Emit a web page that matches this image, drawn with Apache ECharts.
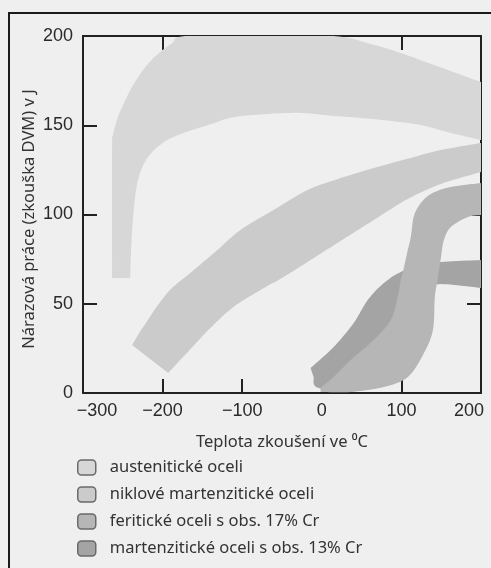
<!DOCTYPE html>
<html><head><meta charset="utf-8">
<script src="https://cdn.jsdelivr.net/npm/echarts@6/dist/echarts.min.js"></script>
<style>html,body{margin:0;padding:0;background:#efefef}#c{width:491px;height:568px}</style>
</head><body><div id="c"></div>
<script>
// Axis ticks
const xTickValues = [-300, -200, -100, 0, 100, 200];
const yTickValues = [0, 50, 100, 150, 200];

// Series names (legend order)
const seriesNames = [
  'austenitické oceli',
  'niklové martenzitické oceli',
  'feritické oceli s obs. 17% Cr',
  'martenzitické oceli s obs. 13% Cr'
];

// Band boundaries [temperature °C, impact energy J]
const austeniticUpper = [[-263.5,64.4],[-263.5,136],[-262.3,144.5],[-257.3,153],[-249.7,161.3],[-237.1,172.5],[-219.5,183.8],[-203,191],[-188,196],[-171.7,200],[-80,200],[15,200],[57.7,196],[99.2,190.5],[140.8,183.8],[200,174.2]];
const austeniticLower = [[-240.8,64.4],[-239,86],[-236,104],[-232,117],[-225,127],[-214,134.5],[-200,140],[-186,143.5],[-165,147],[-140,150.5],[-111,154.5],[-68,156.3],[-26.7,156.9],[14.9,155.2],[48.8,154.1],[86.6,152.4],[124.4,150.1],[162.2,145.7],[200,141.7]];

const nickelUpper = [[-238.3,26.9],[-224.4,37],[-194.2,56],[-165.2,67.2],[-131.2,80.1],[-102.3,91.3],[-60.7,102.5],[-17.9,113.7],[23.7,120.4],[65.2,126],[111.8,131.7],[149.6,136.1],[200,140.1]];
const nickelLower = [[-193,11.2],[-165,24.6],[-140,36.4],[-111,48.2],[-77,57.7],[-48,65],[-18,73.4],[23.7,85.2],[65.2,96.9],[108,108.7],[149.6,117.1],[200,123.8]];

const ferriticUpper = [[-1.5,2.8],[17.4,10.1],[36.3,18.5],[65.2,29.7],[86.6,40.9],[95.4,53.8],[99.2,63.3],[103,70],[108,80.1],[111.8,87.4],[115.6,99],[124.4,106.4],[137,111.5],[156,114.8],[178.6,116.5],[200,117.6]];
const ferriticLower = [[-1.5,0.6],[36.3,0.6],[78,3.4],[108.2,9],[128.3,22.4],[139.6,35.3],[142,53.8],[145.8,64.4],[149.6,75.6],[153.4,85.7],[162.2,93],[183.6,98.6],[200,99.7]];

const martensiticUpper = [[-14.1,14],[14.9,25.8],[40,39.2],[57.7,52.1],[77.9,61.6],[99.2,67.8],[125,71.5],[150,73.4],[200,74.5]];
const martensiticLower = [[-10.3,9],[-4,2.8],[49,1.7],[93,13],[118,41],[137,57.7],[150,61],[200,58.8]];

const bandColors = ['#d7d7d7', '#cbcbcb', '#b6b6b6', '#a4a4a4'];

// Smooth an open polyline of pixel points (Catmull-Rom), keeping its end points.
function smoothLine(pts, steps) {
  const out = [];
  for (let i = 0; i < pts.length - 1; i++) {
    const p0 = pts[i - 1] || pts[i], p1 = pts[i], p2 = pts[i + 1], p3 = pts[i + 2] || pts[i + 1];
    for (let s = 0; s < steps; s++) {
      const t = s / steps, t2 = t * t, t3 = t2 * t;
      const f = (a, b, c, d) => 0.5 * ((2 * b) + (-a + c) * t + (2 * a - 5 * b + 4 * c - d) * t2 + (-a + 3 * b - 3 * c + d) * t3);
      out.push([f(p0[0], p1[0], p2[0], p3[0]), f(p0[1], p1[1], p2[1], p3[1])]);
    }
  }
  out.push(pts[pts.length - 1]);
  return out;
}

function bandSeries(name, upper, lower, color, z) {
  return {
    type: 'custom',
    name: name,
    coordinateSystem: 'cartesian2d',
    xAxisIndex: 0, yAxisIndex: 0,
    clip: true,
    z: z,
    itemStyle: { color: color },
    data: [[upper[0][0], upper[0][1]]],
    renderItem: function (params, api) {
      const up = smoothLine(upper.map(p => api.coord(p)), 10);
      const lo = smoothLine(lower.map(p => api.coord(p)), 10);
      return {
        type: 'polygon',
        shape: { points: up.concat(lo.reverse()) },
        style: { fill: color, stroke: null }
      };
    }
  };
}

const axisCommon = {
  type: 'value',
  axisLine: { show: true, onZero: false, lineStyle: { color: '#222', width: 2 } },
  axisTick: { show: true, inside: true, length: 14, lineStyle: { color: '#222', width: 2 } },
  splitLine: { show: false }
};

const chart = echarts.init(document.getElementById('c'), null, { renderer: 'canvas' });
chart.setOption({
  backgroundColor: '#efefef',
  animation: false,
  graphic: [{
    type: 'rect', left: 8, top: 12, z: 100, silent: true,
    shape: { x: 0, y: 0, width: 520, height: 600 },
    style: { fill: 'transparent', stroke: '#1a1a1a', lineWidth: 2 }
  }],
  grid: { left: 83, right: 10, top: 36, bottom: 175, containLabel: false },
  xAxis: [
    Object.assign({}, axisCommon, {
      position: 'bottom',
      min: xTickValues[0], max: xTickValues[xTickValues.length - 1], interval: 100,
      name: 'Teplota zkoušení ve \u2070C', nameLocation: 'middle', nameGap: 41,
      nameTextStyle: { fontFamily: 'Noto Sans', fontSize: 16.5, color: '#333' },
      axisLabel: {
        margin: 9, fontFamily: 'Liberation Sans', fontSize: 18, color: '#2a2a2a',
        formatter: function (v) {
          const s = v < 0 ? '\u2212' + Math.abs(v) : String(v);
          if (v === xTickValues[0]) return '{first|' + s + '}';
          if (v === xTickValues[xTickValues.length - 1]) return '{last|' + s + '}';
          return s;
        },
        rich: {
          first: { fontFamily: 'Liberation Sans', fontSize: 18, color: '#2a2a2a', padding: [0, 0, 0, 28] },
          last: { fontFamily: 'Liberation Sans', fontSize: 18, color: '#2a2a2a', padding: [0, 24, 0, 0] }
        }
      }
    }),
    Object.assign({}, axisCommon, {
      position: 'top',
      min: xTickValues[0], max: xTickValues[xTickValues.length - 1], interval: 100,
      axisLabel: { show: false }
    })
  ],
  yAxis: [
    Object.assign({}, axisCommon, {
      position: 'left',
      min: yTickValues[0], max: yTickValues[yTickValues.length - 1], interval: 50,
      name: 'Nárazová práce (zkouška DVM) v J', nameLocation: 'middle', nameGap: 45,
      nameMoveOverlap: false,
      nameTextStyle: { fontFamily: 'Noto Sans', fontSize: 16.5, color: '#333', padding: [0, 9, 0, 0] },
      axisLabel: { margin: 10, fontFamily: 'Liberation Sans', fontSize: 18, color: '#2a2a2a' }
    }),
    Object.assign({}, axisCommon, {
      position: 'right',
      min: yTickValues[0], max: yTickValues[yTickValues.length - 1], interval: 50,
      axisLabel: { show: false }
    })
  ],
  legend: {
    orient: 'vertical', left: 77, top: 459, padding: 0, height: 110,
    itemWidth: 18, itemHeight: 15, itemGap: 10,
    icon: 'roundRect', selectedMode: false,
    itemStyle: { borderColor: '#6a6a6a', borderWidth: 1.5 },
    textStyle: { fontFamily: 'Noto Sans', fontSize: 16.5, color: '#333', padding: [0, 0, 0, 9] },
    data: seriesNames
  },
  series: [
    bandSeries(seriesNames[0], austeniticUpper, austeniticLower, bandColors[0], 1),
    bandSeries(seriesNames[1], nickelUpper, nickelLower, bandColors[1], 2),
    bandSeries(seriesNames[3], martensiticUpper, martensiticLower, bandColors[3], 3),
    bandSeries(seriesNames[2], ferriticUpper, ferriticLower, bandColors[2], 4)
  ]
});
</script>
</body></html>
